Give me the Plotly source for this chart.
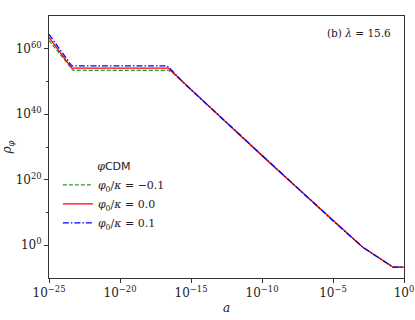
import plotly.graph_objects as go

# Data (scale factor a, energy density rho_phi)
a_green = [1e-25, 10**-23.3, 10**-16.6, 10**-16.3, 10**-15.5, 10**-13.7, 10**-9.7, 1e-5, 10**-2.9, 10**-0.77, 1e0]
rho_green = [10**62.5, 10**53.4, 10**53.4, 10**52.7, 10**49.5, 10**42.3, 10**26.1, 10**7.5, 10**-0.6, 10**-6.7, 10**-6.7]

a_red = [1e-25, 10**-23.4, 10**-16.6, 10**-16.4, 10**-15.5, 10**-13.7, 10**-9.7, 1e-5, 10**-2.9, 10**-0.77, 1e0]
rho_red = [10**63.5, 10**54.1, 10**54.1, 10**53.3, 10**49.5, 10**42.3, 10**26.1, 10**7.5, 10**-0.6, 10**-6.7, 10**-6.7]

a_blue = [1e-25, 10**-23.4, 10**-16.7, 10**-16.4, 10**-15.5, 10**-13.7, 10**-9.7, 1e-5, 10**-2.9, 10**-0.77, 1e0]
rho_blue = [10**64.4, 10**54.8, 10**54.8, 10**53.6, 10**49.5, 10**42.3, 10**26.1, 10**7.5, 10**-0.6, 10**-6.7, 10**-6.7]

x_tickvals = [1e-25, 1e-20, 1e-15, 1e-10, 1e-5, 1e0]
x_ticktext = ["10<sup>−25</sup>", "10<sup>−20</sup>", "10<sup>−15</sup>", "10<sup>−10</sup>", "10<sup>−5</sup>", "10<sup>0</sup>"]
y_tickvals = [1e0, 1e20, 1e40, 1e60]
y_ticktext = ["10<sup>0</sup>", "10<sup>20</sup>", "10<sup>40</sup>", "10<sup>60</sup>"]
y_minor = [1e10, 1e30, 1e50]

SERIF = "DejaVu Serif"
AXC = "#333333"

fig = go.Figure()
fig.add_trace(go.Scatter(x=a_green, y=rho_green, mode="lines",
                         line=dict(color="#2ca02c", width=1.3, dash="4px,2px"),
                         name="<i>φ</i><sub>0</sub>/<i>κ</i> = −0.1"))
fig.add_trace(go.Scatter(x=a_red, y=rho_red, mode="lines",
                         line=dict(color="#ff0000", width=1.3),
                         name="<i>φ</i><sub>0</sub>/<i>κ</i> = 0.0"))
fig.add_trace(go.Scatter(x=a_blue, y=rho_blue, mode="lines",
                         line=dict(color="#0000ff", width=1.3, dash="6px,2px,1.5px,2px"),
                         name="<i>φ</i><sub>0</sub>/<i>κ</i> = 0.1"))

fig.update_layout(
    width=415, height=320,
    margin=dict(l=49, r=11, t=16, b=42, autoexpand=False),
    paper_bgcolor="white", plot_bgcolor="white",
    font=dict(family=SERIF, size=12, color="#222222"),
    showlegend=True,
    legend=dict(
        x=0.025, y=0.465, xanchor="left", yanchor="top",
        bgcolor="rgba(255,255,255,0)",
        title=dict(text="<i>φ</i><span style=\"font-family:DejaVu Sans\">CDM</span>",
                   side="top center", font=dict(size=11, family=SERIF)),
        font=dict(size=11, family=SERIF),
        tracegroupgap=0, itemwidth=30,
    ),
    annotations=[dict(
        x=0.97, y=0.935, xref="paper", yref="paper", xanchor="right", yanchor="middle",
        text="(b) <i>λ</i> = 15.6", showarrow=False, font=dict(size=10.5, family=SERIF, color="#222222"),
    )],
)
fig.update_xaxes(
    type="log", range=[-25, 0], automargin=False,
    tickmode="array", tickvals=x_tickvals, ticktext=x_ticktext,
    ticks="outside", ticklen=4, tickcolor=AXC,
    tickfont=dict(size=12, family=SERIF),
    showline=True, linecolor=AXC, linewidth=1, mirror=True,
    showgrid=False, zeroline=False,
    title=dict(text="<i>a</i>", standoff=4, font=dict(size=12, family=SERIF)),
)
fig.update_yaxes(
    type="log", range=[-10, 70], automargin=False,
    tickmode="array", tickvals=y_tickvals, ticktext=y_ticktext,
    ticks="outside", ticklen=4, tickcolor=AXC,
    tickfont=dict(size=12, family=SERIF),
    minor=dict(tickmode="array", tickvals=y_minor, ticks="outside", ticklen=2.5, tickcolor=AXC, showgrid=False),
    showline=True, linecolor=AXC, linewidth=1, mirror=True,
    showgrid=False, zeroline=False,
    title=dict(text="<i>ρ</i><sub><i>φ</i></sub>", standoff=2, font=dict(size=12, family=SERIF)),
)

fig.write_html(
    "out.html",
    config={"displayModeBar": False},
    post_script="document.body.style.margin='0';document.body.style.overflow='hidden';",
)
